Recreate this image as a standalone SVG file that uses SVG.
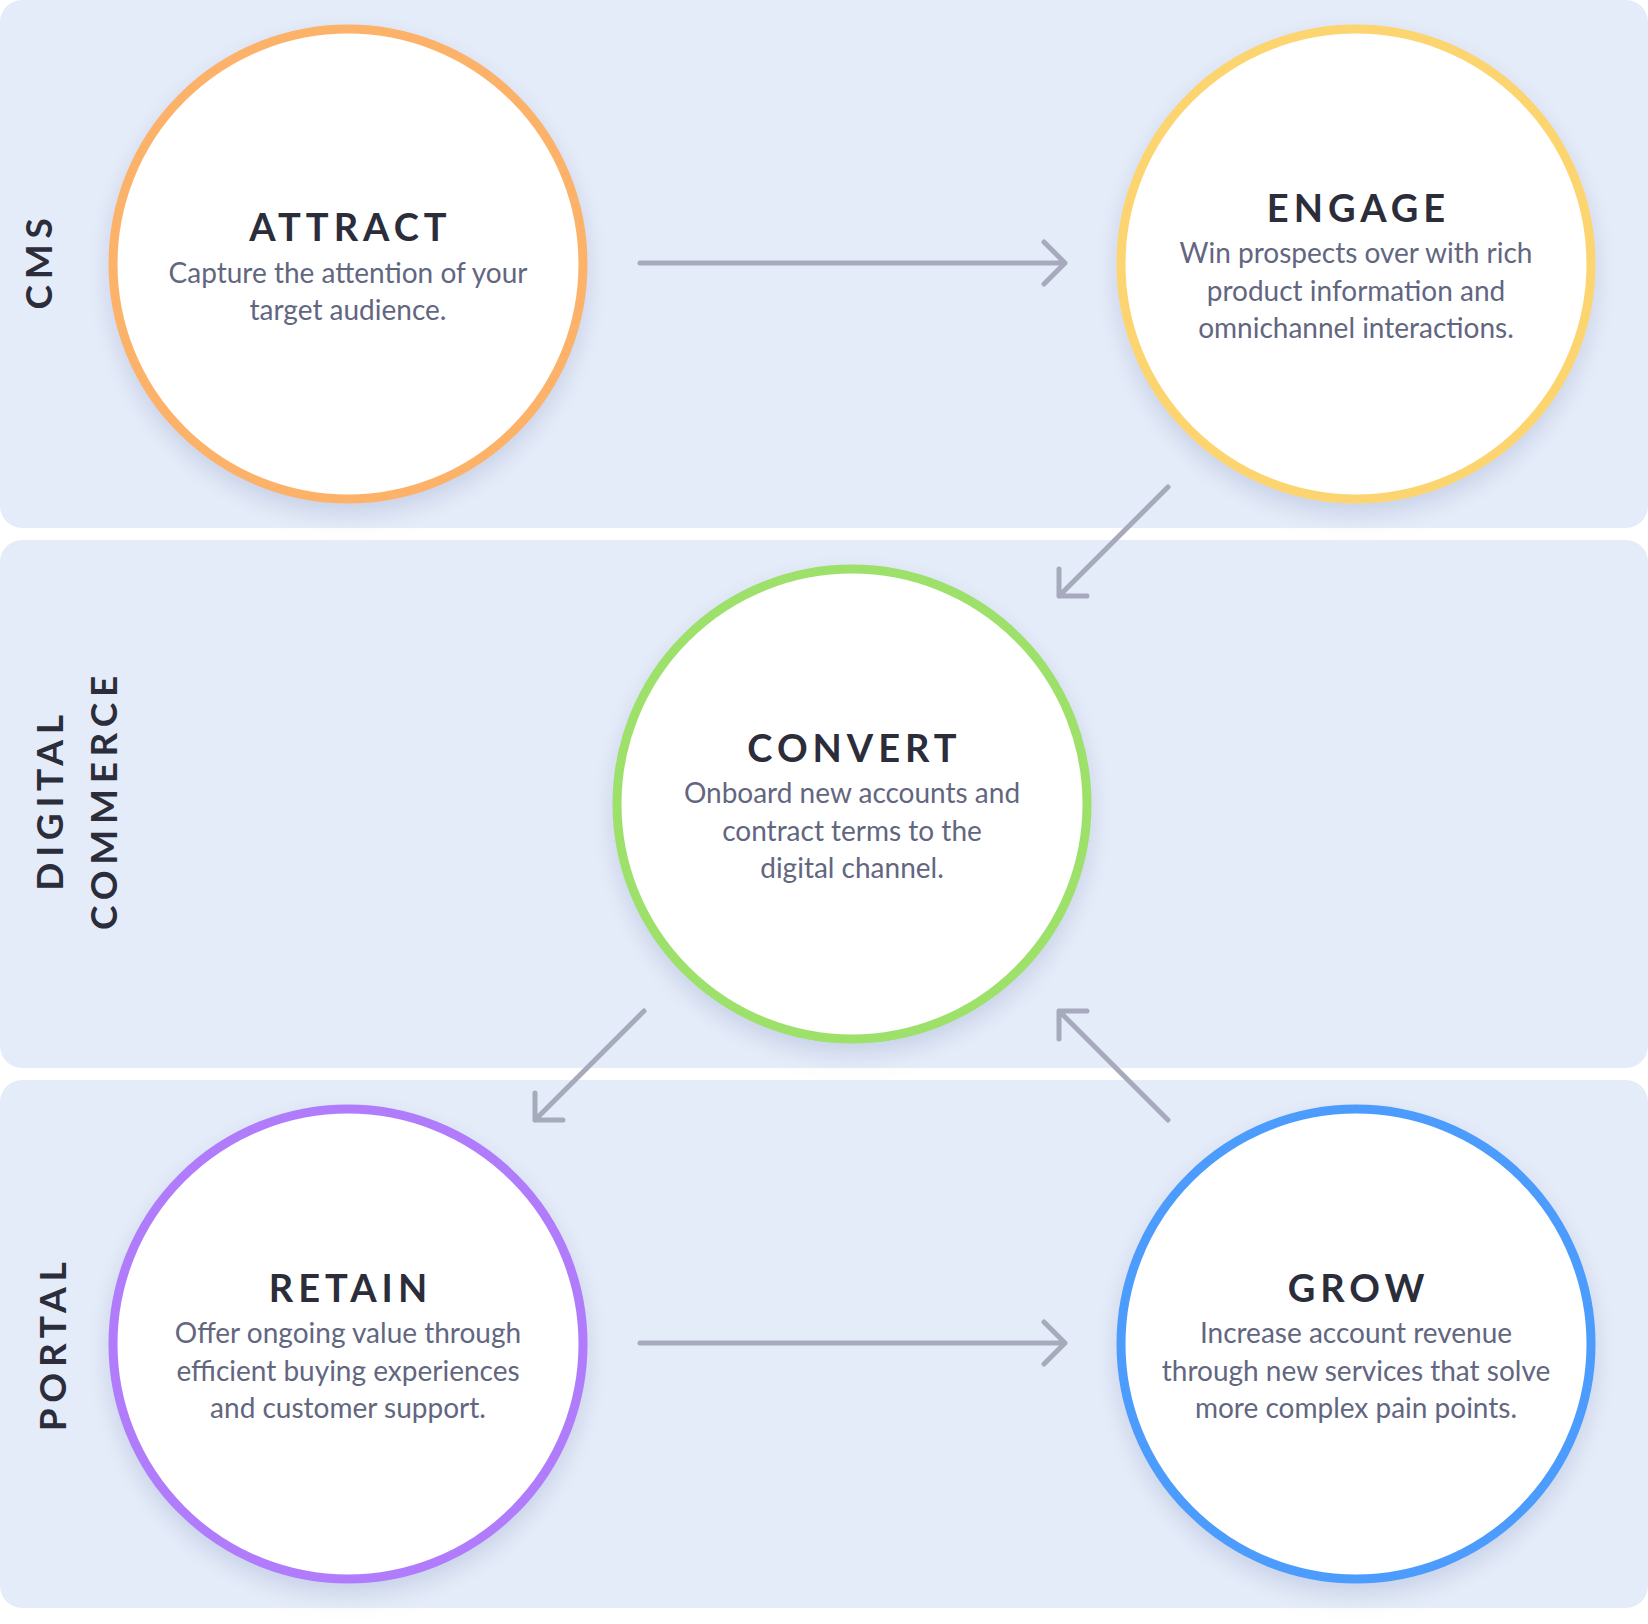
<svg xmlns="http://www.w3.org/2000/svg" width="1648" height="1624" viewBox="0 0 1648 1624">
  <defs>
    <filter id="shadow" x="-20%" y="-20%" width="140%" height="150%">
      <feDropShadow dx="0" dy="10" stdDeviation="12" flood-color="#8E9DC4" flood-opacity="0.35"/>
    </filter>
    <style>
      .band { fill: #E5ECF9; }
      .node circle { fill: #FFFFFF; stroke-width: 9; filter: url(#shadow); }
      .title { font-family: Lato, "Open Sans", sans-serif; font-weight: 700; font-size: 38px; letter-spacing: 5px; fill: #2C2D3B; text-anchor: middle; }
      .body { font-family: Lato, "Open Sans", sans-serif; font-weight: 400; font-size: 28px; fill: #62667F; text-anchor: middle; }
      .lane { font-family: Lato, "Open Sans", sans-serif; font-weight: 700; font-size: 37px; letter-spacing: 5.7px; fill: #2C2D3B; text-anchor: middle; }
      .conn { fill: none; stroke: #A7AABD; stroke-width: 5; stroke-linecap: round; stroke-linejoin: round; }
    </style>
  </defs>

  <rect width="1648" height="1624" fill="#FFFFFF"/>

  <g id="bands">
    <rect class="band" x="0" y="0" width="1648" height="528" rx="22"/>
    <rect class="band" x="0" y="540" width="1648" height="528" rx="22"/>
    <rect class="band" x="0" y="1080" width="1648" height="528" rx="22"/>
  </g>

  <g id="lanes">
    <g id="lane-cms"><text class="lane" transform="translate(52,261) rotate(-90)">CMS</text></g>
    <g id="lane-digital-commerce">
      <text class="lane" transform="translate(63,800) rotate(-90)">DIGITAL</text>
      <text class="lane" transform="translate(117,800) rotate(-90)">COMMERCE</text>
    </g>
    <g id="lane-portal"><text class="lane" transform="translate(66,1344) rotate(-90)">PORTAL</text></g>
  </g>

  <g id="connectors">
    <path class="conn" d="M640,263 L1065,263 M1044,242 L1065,263 L1044,284"/>
    <path class="conn" d="M1168,487 L1059,596 M1059,569 L1059,596 L1087,596"/>
    <path class="conn" d="M644,1011 L535,1120 M535,1093 L535,1120 L563,1120"/>
    <path class="conn" d="M1168,1120 L1059,1011 M1059,1039 L1059,1011 L1087,1011"/>
    <path class="conn" d="M640,1343 L1065,1343 M1044,1322 L1065,1343 L1044,1364"/>
  </g>

  <g id="node-attract" class="node">
    <circle cx="348" cy="264" r="235" stroke="#FDB26B"/>
    <text class="title" x="350.5" y="241">ATTRACT</text>
    <text class="body" x="348" y="283">Capture the attention of your</text>
    <text class="body" x="348" y="320">target audience.</text>
  </g>

  <g id="node-engage" class="node">
    <circle cx="1356" cy="264" r="235" stroke="#FDD56F"/>
    <text class="title" x="1358.5" y="222">ENGAGE</text>
    <text class="body" x="1356" y="263">Win prospects over with rich</text>
    <text class="body" x="1356" y="301">product information and</text>
    <text class="body" x="1356" y="338">omnichannel interactions.</text>
  </g>

  <g id="node-convert" class="node">
    <circle cx="852" cy="804" r="235" stroke="#9DE06A"/>
    <text class="title" x="854.5" y="762">CONVERT</text>
    <text class="body" x="852" y="803">Onboard new accounts and</text>
    <text class="body" x="852" y="841">contract terms to the</text>
    <text class="body" x="852" y="878">digital channel.</text>
  </g>

  <g id="node-retain" class="node">
    <circle cx="348" cy="1344" r="235" stroke="#B07CFB"/>
    <text class="title" x="350.5" y="1302">RETAIN</text>
    <text class="body" x="348" y="1343">Offer ongoing value through</text>
    <text class="body" x="348" y="1381">efficient buying experiences</text>
    <text class="body" x="348" y="1418">and customer support.</text>
  </g>

  <g id="node-grow" class="node">
    <circle cx="1356" cy="1344" r="235" stroke="#4C9CFD"/>
    <text class="title" x="1358.5" y="1302">GROW</text>
    <text class="body" x="1356" y="1343">Increase account revenue</text>
    <text class="body" x="1356" y="1381">through new services that solve</text>
    <text class="body" x="1356" y="1418">more complex pain points.</text>
  </g>
</svg>
